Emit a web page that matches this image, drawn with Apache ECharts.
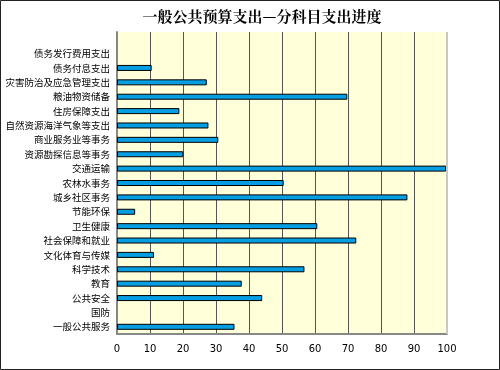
<!DOCTYPE html>
<html><head><meta charset="utf-8">
<script src="https://cdn.jsdelivr.net/npm/echarts@6/dist/echarts.min.js"></script>
<style>html,body{margin:0;padding:0;background:#fff}#c{width:500px;height:370px}</style>
</head><body><div id="c"></div>
<script>
const categories = ['一般公共服务','国防','公共安全','教育','科学技术','文化体育与传媒','社会保障和就业','卫生健康','节能环保','城乡社区事务','农林水事务','交通运输','资源勘探信息等事务','商业服务业等事务','自然资源海洋气象等支出','住房保障支出','粮油物资储备','灾害防治及应急管理支出','债务付息支出','债务发行费用支出',''];
const values = [35.6, null, 44.0, 37.8, 56.8, 11.2, 72.5, 60.7, 5.5, 88.0, 50.5, 99.7, 20.1, 30.7, 27.7, 18.9, 69.8, 27.2, 10.5, null, null];
const xTicks = [0,10,20,30,40,50,60,70,80,90,100];
const title = '一般公共预算支出—分科目支出进度';

const chart = echarts.init(document.getElementById('c'), null, {renderer:'canvas'});
chart.setOption({
  animation:false,
  backgroundColor:'#fff',
  title:{text:title,left:257,textAlign:'center',top:4,textStyle:{fontFamily:'"Noto Serif CJK SC","Noto Sans CJK SC",serif',fontSize:15,fontWeight:'bold',color:'#000'}},
  grid:{left:117,right:53,top:32,bottom:36,show:true,backgroundColor:'#FFFFD9',borderWidth:0,containLabel:false,outerBoundsMode:'none'},
  xAxis:{type:'value',min:xTicks[0],max:xTicks[xTicks.length-1],interval:10,
    axisLine:{show:true,lineStyle:{color:'#888',width:2}},axisTick:{show:false},
    axisLabel:{color:'#000',fontFamily:'DejaVu Sans',fontSize:10,margin:10},
    splitLine:{show:true,lineStyle:{color:'#555',width:1}}},
  yAxis:{type:'category',data:categories,
    axisLine:{show:true,lineStyle:{color:'#888',width:2}},axisTick:{show:false},
    axisLabel:{color:'#000',fontFamily:'"Noto Sans CJK SC"',fontSize:9.5,margin:7,interval:0}},
  series:[{type:'bar',data:values,barWidth:6,
    itemStyle:{color:'#069EE2',borderColor:'#000',borderWidth:1}}],
  graphic:[{type:'rect',shape:{x:0.5,y:0.5,width:499,height:369},style:{fill:'none',stroke:'#222',lineWidth:1},z:100},
    {type:'line',shape:{x1:447,y1:32,x2:447,y2:334},style:{stroke:'#c8c8c8',lineWidth:2},z:50}]
});
</script></body></html>
